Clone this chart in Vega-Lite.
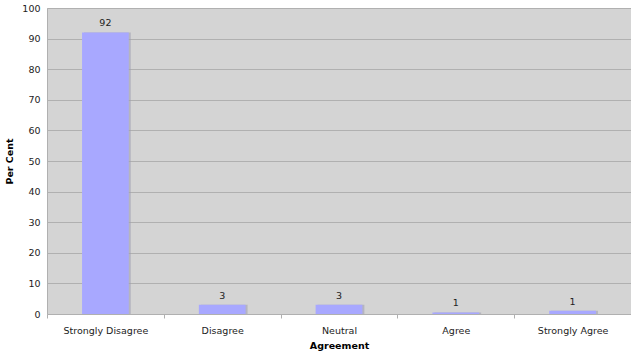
{
  "$schema": "https://vega.github.io/schema/vega-lite/v6.json",
  "width": 584,
  "height": 306,
  "autosize": {"type": "none"},
  "padding": {"left": 47, "top": 8, "right": 0, "bottom": 42},
  "background": "white",
  "config": {
    "font": "DejaVu Sans",
    "view": {"fill": "#d4d4d4", "stroke": null}
  },
  "data": {
    "values": [
      {"Agreement": "Strongly Disagree", "Percent": 92, "Label": "92"},
      {"Agreement": "Disagree", "Percent": 3, "Label": "3"},
      {"Agreement": "Neutral", "Percent": 3, "Label": "3"},
      {"Agreement": "Agree", "Percent": 0.5, "Label": "1"},
      {"Agreement": "Strongly Agree", "Percent": 1.1, "Label": "1"}
    ]
  },
  "encoding": {
    "x": {
      "field": "Agreement",
      "type": "nominal",
      "sort": null,
      "scale": {"paddingInner": 0, "paddingOuter": 0},
      "axis": {
        "labelAngle": 0,
        "labelFontSize": 9.5,
        "labelColor": "#222",
        "labelPadding": 7,
        "tickBand": "extent",
        "tickSize": 4,
        "tickColor": "#b0b0b0",
        "domainColor": "#b0b0b0",
        "title": "Agreement",
        "titleFontSize": 9.5,
        "titleFontWeight": "bold",
        "titleColor": "#000",
        "titlePadding": 6,
        "grid": false
      }
    },
    "y": {
      "field": "Percent",
      "type": "quantitative",
      "scale": {"domain": [0, 100], "nice": false},
      "axis": {
        "values": [0, 10, 20, 30, 40, 50, 60, 70, 80, 90, 100],
        "ticks": false,
        "labelFontSize": 9.5,
        "labelColor": "#222",
        "labelPadding": 7,
        "gridColor": "#b0b0b0",
        "gridWidth": 1,
        "domainColor": "#b0b0b0",
        "title": "Per Cent",
        "titleFontSize": 9.5,
        "titleFontWeight": "bold",
        "titleColor": "#000",
        "titlePadding": 7
      }
    }
  },
  "layer": [
    {
      "mark": {"type": "bar", "width": {"band": 0.4}, "color": "#a0a0b0", "xOffset": 2, "opacity": 0.6},
      "encoding": {}
    },
    {
      "mark": {"type": "bar", "width": {"band": 0.4}, "color": "#a8a8ff"},
      "encoding": {}
    },
    {
      "mark": {"type": "text", "dy": -9, "fontSize": 9.5, "color": "#222"},
      "encoding": {"text": {"field": "Label"}}
    }
  ]
}
